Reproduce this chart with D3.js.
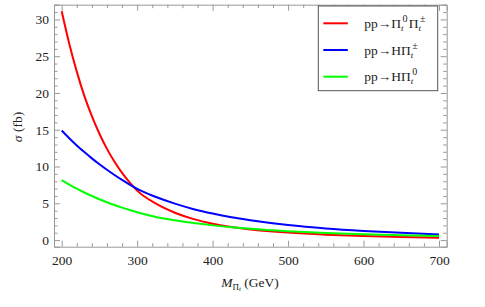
<!DOCTYPE html>
<html>
<head>
<meta charset="utf-8">
<script src="https://cdn.jsdelivr.net/npm/d3@7"></script>
<style>
  body { margin: 0; background: #fff; }
  svg { display: block; }
  text { font-family: "Liberation Serif", "DejaVu Serif", serif; fill: #222; }
  .frame line, .frame path { stroke: #999; }
</style>
</head>
<body>
<div id="chart"></div>
<script>
// masses in GeV
const masses = [200, 210, 220, 230, 240, 250, 260, 270, 280, 290, 300, 325, 350, 375, 400, 425, 450, 500, 550, 600, 650, 700];
// cross sections in fb
const sigmaPi0PiPm = [31.1, 26.7, 22.9, 19.6, 16.85, 14.46, 12.4, 10.65, 9.13, 7.84, 6.72, 4.95, 3.72, 2.85, 2.23, 1.77, 1.45, 1.02, 0.74, 0.55, 0.41, 0.31];
const sigmaHPiPm = [14.9, 13.85, 12.87, 11.96, 11.11, 10.31, 9.56, 8.85, 8.18, 7.55, 6.96, 5.85, 4.95, 4.2, 3.6, 3.1, 2.7, 2.05, 1.58, 1.24, 0.98, 0.77];
const sigmaHPi0 = [8.15, 7.55, 6.99, 6.47, 5.99, 5.55, 5.14, 4.76, 4.41, 4.08, 3.78, 3.15, 2.69, 2.31, 2.0, 1.74, 1.53, 1.2, 0.95, 0.78, 0.65, 0.55];
const xTicks = [200, 300, 400, 500, 600, 700];
const yTicks = [0, 5, 10, 15, 20, 25, 30];

const series = [
  { values: sigmaPi0PiPm, color: '#ff0000', label: [['pp→Π'], ['t', 'sub'], ['0', 'sup'], ['Π'], ['t', 'sub'], ['±', 'sup']] },
  { values: sigmaHPiPm, color: '#0000ff', label: [['pp→HΠ'], ['t', 'sub'], ['±', 'sup']] },
  { values: sigmaHPi0, color: '#00ff00', label: [['pp→HΠ'], ['t', 'sub'], ['0', 'sup']] },
];

const W = 485, H = 307;
const margin = { top: 4.7, right: 38.3, bottom: 60.3, left: 54 };
const w = W - margin.left - margin.right;
const h = H - margin.top - margin.bottom;

const svg = d3.select('#chart').append('svg').attr('width', W).attr('height', H);
const g = svg.append('g').attr('transform', `translate(${margin.left},${margin.top})`);

const x = d3.scaleLinear().domain([189.8, 710.2]).range([0, w]);
const y = d3.scaleLinear().domain([-0.9, 32]).range([h, 0]);

const xMinor = d3.range(200, 701, 20).filter((v) => v % 100 !== 0);
const yMinor = d3.range(0, 33, 1).filter((v) => v % 5 !== 0);

function frameAxis(axisFn, scale, major, minor, offset, labels) {
  const ga = g.append('g').attr('class', 'frame').attr('transform', offset);
  ga.call(axisFn(scale).tickValues(major).tickSize(-6).tickFormat(labels ? d3.format('d') : ''));
  ga.append('g').call(axisFn(scale).tickValues(minor).tickSize(-3.5).tickFormat(''))
    .select('.domain').remove();
  ga.selectAll('text').attr('font-size', 13.5).style('font-family', '"Liberation Serif", serif').attr('fill', '#222');
  return ga;
}

const bx = frameAxis(d3.axisBottom, x, xTicks, xMinor, `translate(0,${h})`, true);
bx.selectAll('.tick text').attr('dy', '0.71em').attr('y', 9);
frameAxis(d3.axisTop, x, xTicks, xMinor, 'translate(0,0)', false);
const ly = frameAxis(d3.axisLeft, y, yTicks, yMinor, 'translate(0,0)', true);
ly.selectAll('.tick text').attr('x', -5);
frameAxis(d3.axisRight, y, yTicks, yMinor, `translate(${w},0)`, false);

g.selectAll('.frame .domain').attr('stroke', '#999');

const line = d3.line()
  .x((d, i) => x(masses[i]))
  .y((d) => y(d))
  .curve(d3.curveMonotoneX);

g.selectAll('path.series')
  .data(series)
  .join('path')
  .attr('class', 'series')
  .attr('d', (d) => line(d.values))
  .attr('fill', 'none')
  .attr('stroke', (d) => d.color)
  .attr('stroke-width', 2);

// legend
const legend = svg.append('g').attr('transform', 'translate(318.3,6)');
legend.append('rect')
  .attr('width', 119.4).attr('height', 84.7)
  .attr('fill', '#fff').attr('stroke', '#555').attr('stroke-width', 1);

series.forEach((s, i) => {
  const cy = 17.3 + 26.7 * i;
  legend.append('line')
    .attr('x1', 5).attr('x2', 29.5).attr('y1', cy).attr('y2', cy)
    .attr('stroke', s.color).attr('stroke-width', 2);
  const t = legend.append('text')
    .attr('x', 46).attr('y', cy + 4.5)
    .attr('font-size', 13.5);
  s.label.forEach(([txt, kind]) => {
    if (kind === 'sub') {
      t.append('tspan').attr('dy', 3).attr('font-size', 9).attr('font-style', 'italic').text(txt);
    } else if (kind === 'sup') {
      t.append('tspan').attr('dy', -9).attr('dx', -1).attr('font-size', 10).text(txt);
      t.append('tspan').attr('dy', 6).text('\u200a');
    } else {
      t.append('tspan').text(txt);
    }
  });
});

// axis labels
const xl = svg.append('text')
  .attr('x', 250).attr('y', 287)
  .attr('text-anchor', 'middle')
  .attr('font-size', 13.5);
xl.append('tspan').attr('font-style', 'italic').text('M');
xl.append('tspan').attr('dy', 3).attr('font-size', 9).text('Π');
xl.append('tspan').attr('dy', 1).attr('font-size', 7).attr('font-style', 'italic').text('t');
xl.append('tspan').attr('dy', -4).text(' (GeV)');

const yl = svg.append('text')
  .attr('transform', 'translate(22,127) rotate(-90)')
  .attr('text-anchor', 'middle')
  .attr('font-size', 13.5);
yl.append('tspan').attr('font-style', 'italic').text('σ');
yl.append('tspan').text(' (fb)');
</script>
</body>
</html>
